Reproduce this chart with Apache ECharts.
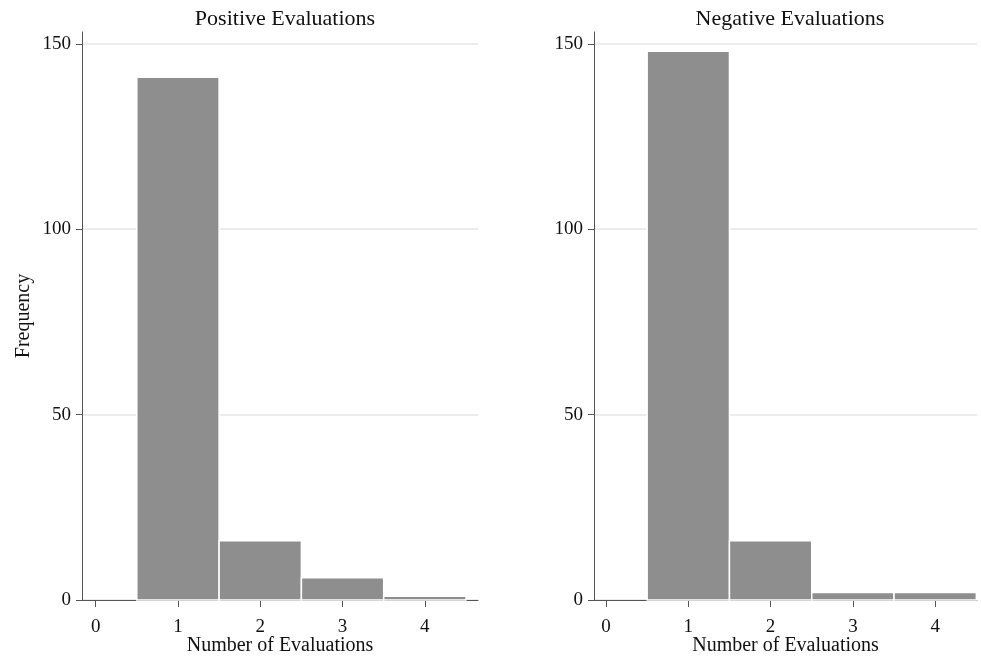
<!DOCTYPE html>
<html>
<head>
<meta charset="utf-8">
<script src="https://cdn.jsdelivr.net/npm/echarts@6/dist/echarts.min.js"></script>
<style>
  html, body { margin: 0; padding: 0; background: #fff; }
  #chart { width: 981px; height: 660px; }
</style>
</head>
<body>
<div id="chart"></div>
<script>
// histogram bins (centre of each bin) and counts
var bins = [1, 2, 3, 4];
var positiveCounts = [141, 16, 6, 1];
var negativeCounts = [148, 16, 2, 2];
var xTicks = [0, 1, 2, 3, 4];
var yTicks = [0, 50, 100, 150];

var FONT = '"Liberation Serif", "DejaVu Serif", serif';
var AXIS_COLOR = '#555';

function toPairs(counts) {
    return bins.map(function (b, i) { return [b, counts[i]]; });
}

function renderBin(params, api) {
    var x = api.value(0);
    var y = api.value(1);
    if (!y) return null;
    var top = api.coord([x - 0.5, y]);
    var bottom = api.coord([x + 0.5, 0]);
    return {
        type: 'rect',
        shape: { x: top[0], y: top[1], width: bottom[0] - top[0], height: bottom[1] - top[1] },
        style: { fill: '#8e8e8e', stroke: '#fff', lineWidth: 1.5 }
    };
}

function xAxisFor(gridIndex, min, max) {
    return {
        type: 'value',
        gridIndex: gridIndex,
        min: min,
        max: max,
        name: 'Number of Evaluations',
        nameLocation: 'middle',
        nameGap: 36,
        nameMoveOverlap: false,
        nameTextStyle: { fontFamily: FONT, fontSize: 20, color: '#111' },
        axisLine: { show: true, onZero: false, lineStyle: { color: AXIS_COLOR, width: 1 } },
        axisTick: { show: true, customValues: xTicks, length: 7, lineStyle: { color: AXIS_COLOR } },
        axisLabel: { customValues: xTicks, margin: 18, fontFamily: FONT, fontSize: 19, color: '#111' },
        splitLine: { show: false }
    };
}

function yAxisFor(gridIndex, withName) {
    return {
        type: 'value',
        gridIndex: gridIndex,
        min: 0,
        max: 153.2,
        interval: 50,
        name: withName ? 'Frequency' : '',
        nameLocation: 'middle',
        nameGap: 48,
        nameMoveOverlap: false,
        nameTextStyle: { fontFamily: FONT, fontSize: 20, color: '#111' },
        axisLine: { show: true, onZero: false, lineStyle: { color: AXIS_COLOR, width: 1 } },
        axisTick: { show: true, customValues: yTicks, length: 6, lineStyle: { color: AXIS_COLOR } },
        axisLabel: { customValues: yTicks, margin: 11, fontFamily: FONT, fontSize: 19, color: '#111' },
        splitLine: { show: true, customValues: yTicks, lineStyle: { color: '#e6e6e6', width: 1.5 } }
    };
}

var chart = echarts.init(document.getElementById('chart'));
chart.setOption({
    animation: false,
    backgroundColor: '#fff',
    title: [
        { text: 'Positive Evaluations', left: 280, top: 3, textAlign: 'center',
          textStyle: { fontFamily: FONT, fontSize: 22, fontWeight: 'normal', color: '#111' } },
        { text: 'Negative Evaluations', left: 785, top: 3, textAlign: 'center',
          textStyle: { fontFamily: FONT, fontSize: 22, fontWeight: 'normal', color: '#111' } }
    ],
    grid: [
        { left: 82, top: 32, width: 396, height: 568, outerBoundsMode: 'none', containLabel: false },
        { left: 594, top: 32, width: 383, height: 568, outerBoundsMode: 'none', containLabel: false }
    ],
    xAxis: [xAxisFor(0, -0.166, 4.646), xAxisFor(1, -0.146, 4.508)],
    yAxis: [yAxisFor(0, true), yAxisFor(1, false)],
    series: [
        { type: 'custom', name: 'Positive', xAxisIndex: 0, yAxisIndex: 0,
          renderItem: renderBin, data: toPairs(positiveCounts) },
        { type: 'custom', name: 'Negative', xAxisIndex: 1, yAxisIndex: 1,
          renderItem: renderBin, data: toPairs(negativeCounts) }
    ]
});
</script>
</body>
</html>
